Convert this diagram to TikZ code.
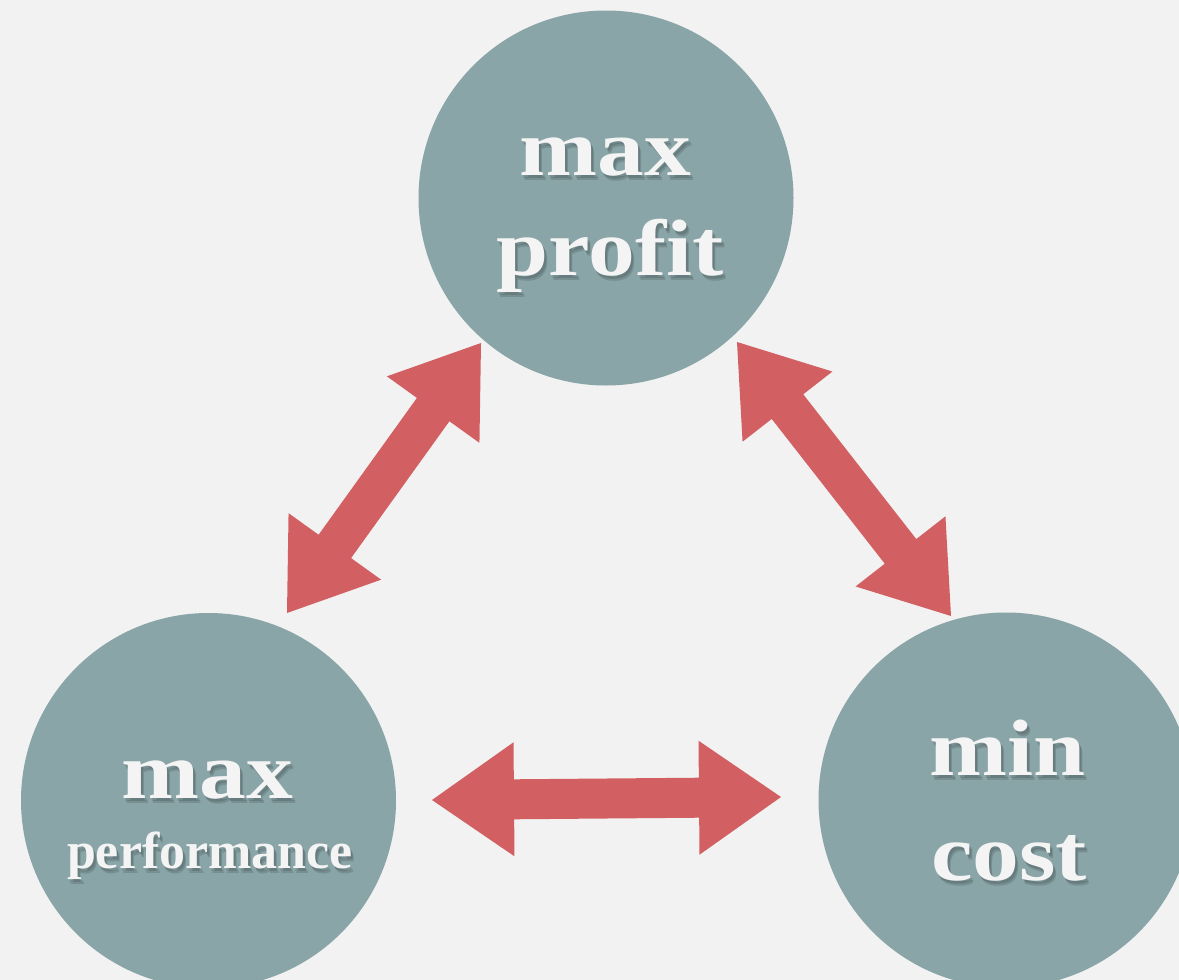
\documentclass[tikz,border=0pt]{standalone}
\usepackage{fontspec}
\setmainfont{Liberation Serif}
\usetikzlibrary{calc}

\definecolor{paper}{HTML}{F2F2F2}
\definecolor{disc}{HTML}{89A5A7}
\definecolor{arrowred}{HTML}{D26062}
\definecolor{ink}{HTML}{F4F4F4}

\tikzset{
  goal/.style={circle, fill=disc, draw=none, minimum size=375pt, inner sep=0pt},
  bigword/.style={anchor=base, inner sep=0pt, text=ink,
    font=\bfseries\fontsize{80}{80}\selectfont},
  smallword/.style={anchor=base, inner sep=0pt, text=ink,
    font=\bfseries\fontsize{52}{52}\selectfont},
  textshadow/.style={text=black, opacity=0.13},
}

% a word with a soft drop shadow underneath
\newcommand{\goalword}[5]{%
  \node[#4, textshadow] (#1-s1) at (#2+2,#3+3) {#5};
  \node[#4, textshadow] (#1-s2) at (#2+3,#3+5) {#5};
  \node[#4] (#1) at (#2,#3) {#5};}

% thick double-headed block arrow between two named points
\newcommand{\blockarrow}[2]{%
  \fill[arrowred] (#1)
    -- ($(#1)!82pt!(#2)!57pt!90:(#2)$)
    -- ($(#1)!82pt!(#2)!20pt!90:(#2)$)
    -- ($(#2)!82pt!(#1)!20pt!-90:(#1)$)
    -- ($(#2)!82pt!(#1)!57pt!-90:(#1)$)
    -- (#2)
    -- ($(#2)!82pt!(#1)!57pt!90:(#1)$)
    -- ($(#2)!82pt!(#1)!20pt!90:(#1)$)
    -- ($(#1)!82pt!(#2)!20pt!-90:(#2)$)
    -- ($(#1)!82pt!(#2)!57pt!-90:(#2)$)
    -- cycle;}

\newcommand{\wide}[1]{\scalebox{1.17}[1]{#1}}

\begin{document}
\begin{tikzpicture}[x=1pt, y=-1pt]
  \useasboundingbox (0,0) rectangle (1179,980);
  \fill[paper] (0,0) rectangle (1179,980);
  \clip (0,0) rectangle (1179,980);

  % the three goals
  \node[goal] (profit) at (606,198) {};
  \node[goal] (perf)   at (208.5,800.5) {};
  \node[goal] (cost)   at (1006,800) {};

  \goalword{profit-1}{605.5}{175}{bigword}{\wide{max}}
  \goalword{profit-2}{610}{275}{bigword}{\wide{profit}}
  \goalword{perf-1}{207.5}{798}{bigword}{\wide{max}}
  \goalword{perf-2}{210}{868}{smallword}{performance}
  \goalword{cost-1}{1007.5}{775}{bigword}{\wide{min}}
  \goalword{cost-2}{1009}{880}{bigword}{\wide{cost}}

  % arrow tips
  \coordinate (lp) at (287,613);
  \coordinate (lq) at (481,343);
  \coordinate (rp) at (737,342);
  \coordinate (rq) at (951,616);
  \coordinate (bp) at (432,800);
  \coordinate (bq) at (781,797);

  % trade-offs between the goals
  \blockarrow{lp}{lq}
  \blockarrow{rp}{rq}
  \blockarrow{bp}{bq}
\end{tikzpicture}
\end{document}
